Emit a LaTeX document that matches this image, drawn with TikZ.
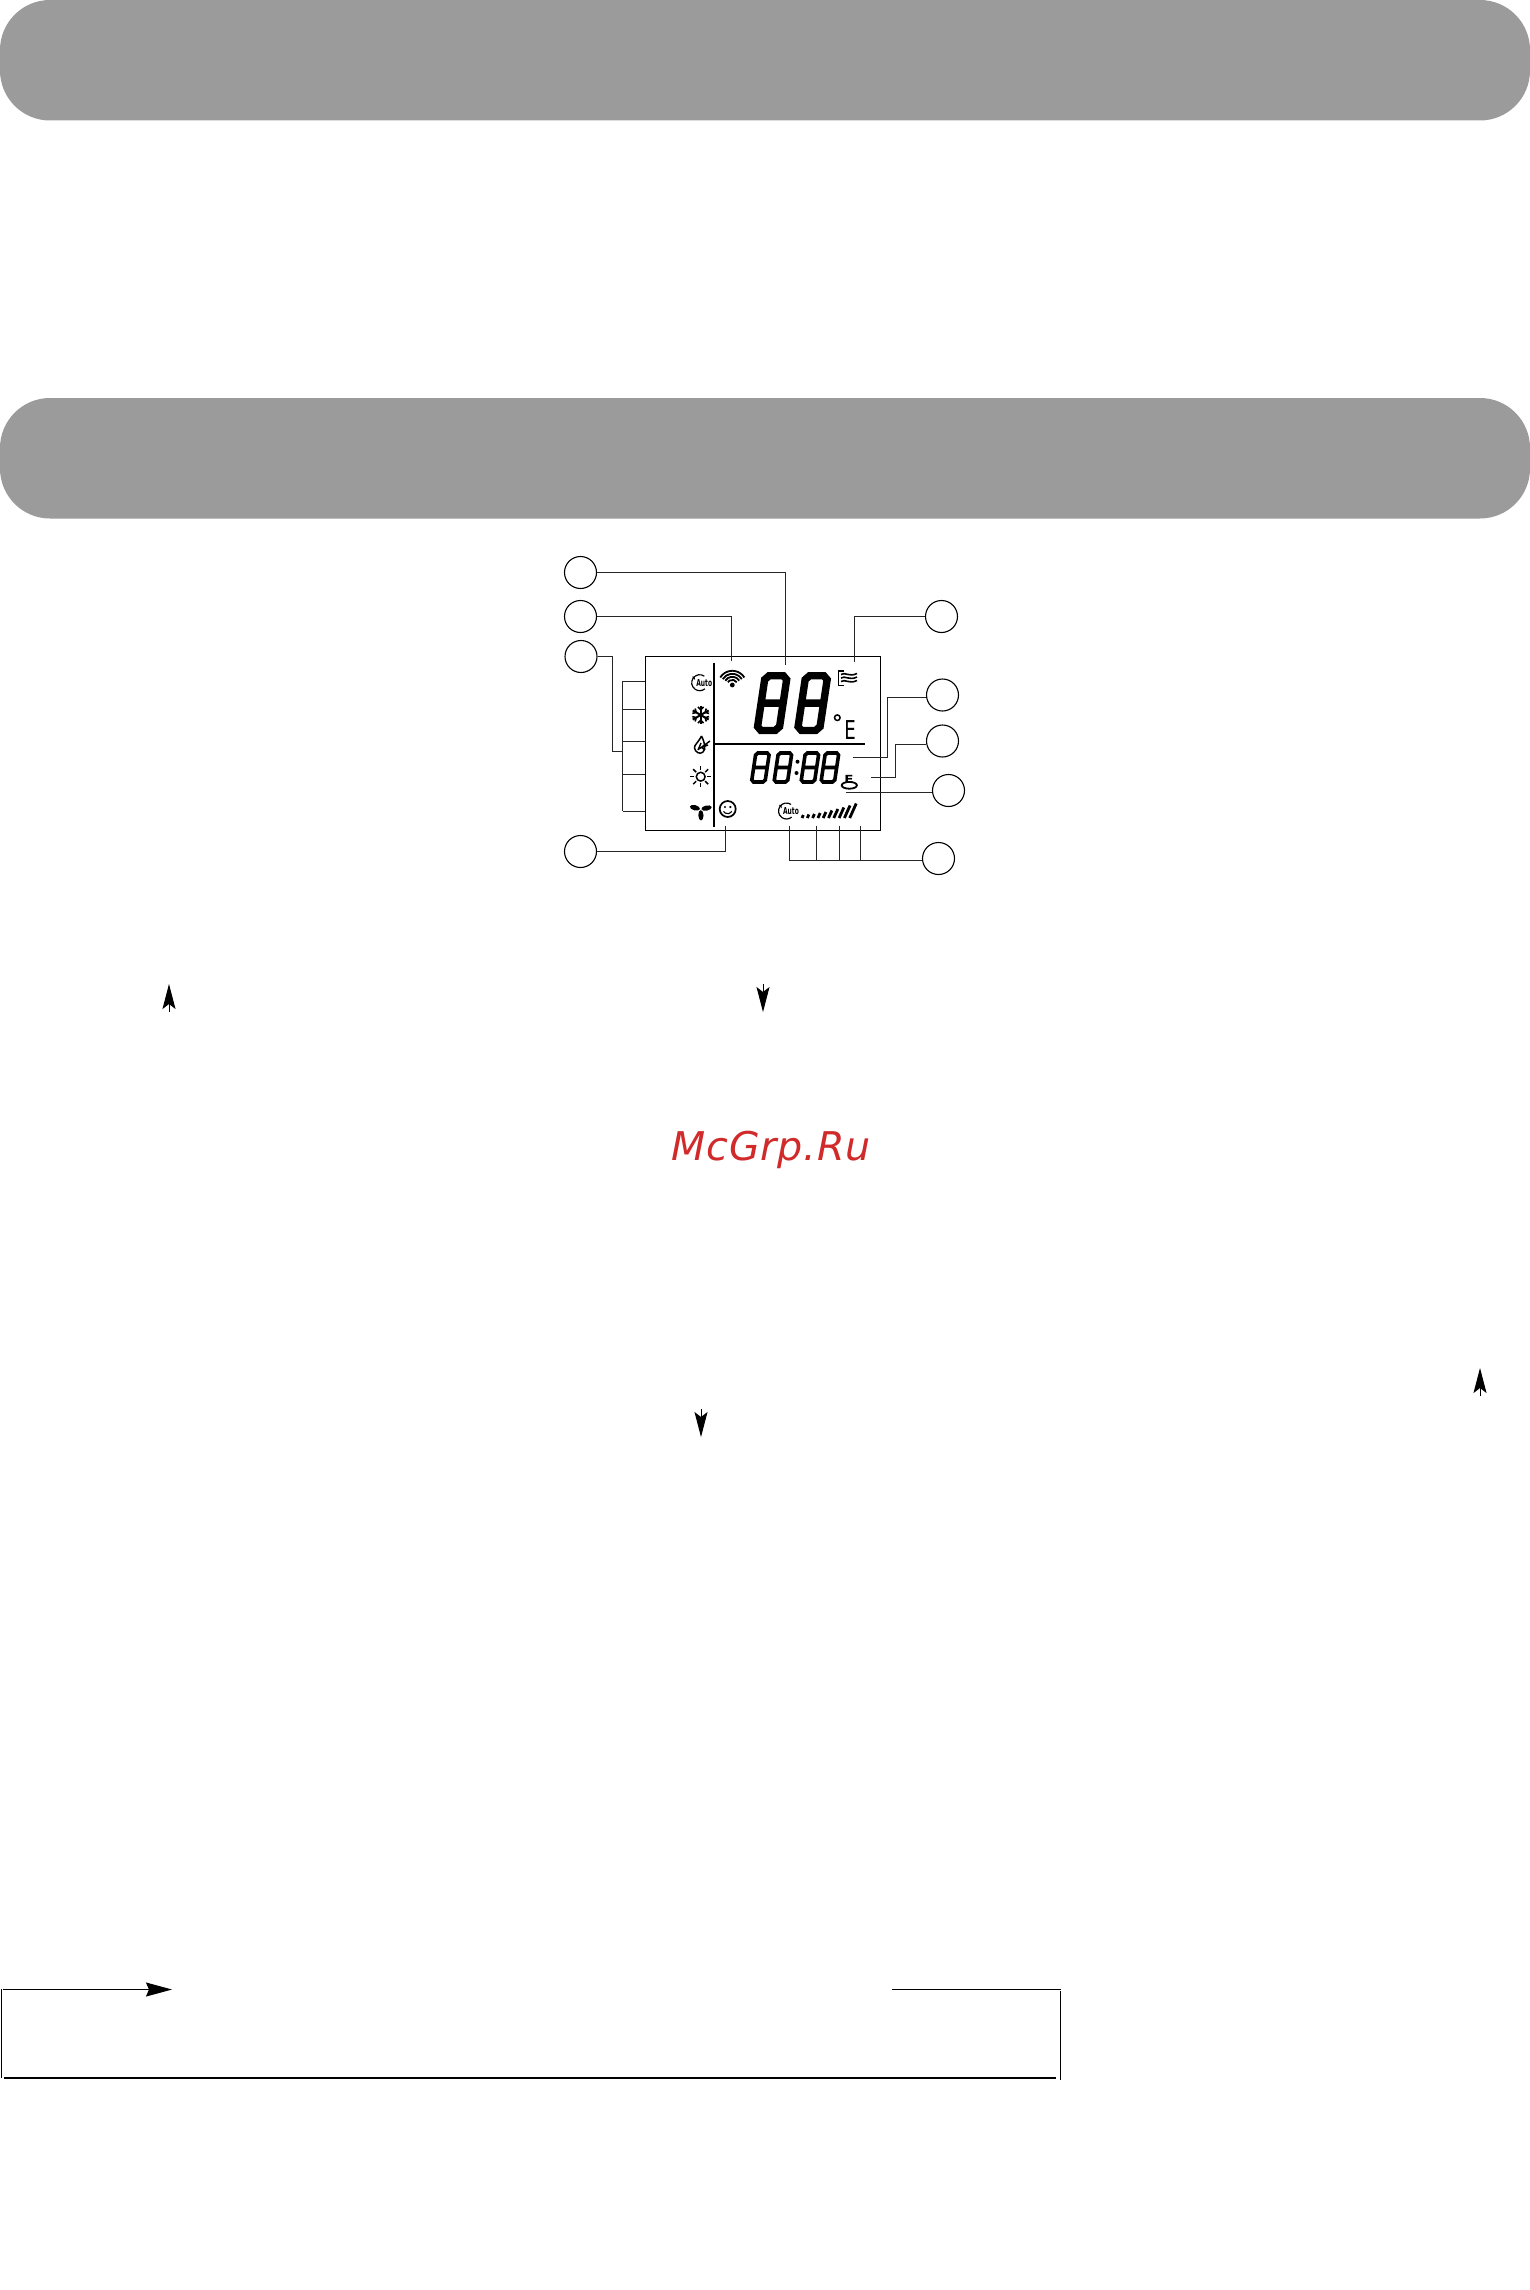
\documentclass[tikz,border=0pt]{standalone}
\usepackage{fontspec}
\setmainfont{DejaVu Sans}
\usetikzlibrary{arrows.meta}
\definecolor{bargray}{HTML}{9B9B9B}
\definecolor{markred}{HTML}{D02A2A}
\tikzset{
  callout/.style={circle,draw,line width=.55pt,minimum size=16pt,inner sep=0pt},
  lead/.style={line width=.55pt,black!85},
  heavy/.style={line width=1pt},
  icon/.style={line width=.75pt},
  upflow/.style={line width=.5pt,-{Stealth[length=12.5pt,width=6.5pt,inset=2.5pt]}},
  sideflow/.style={line width=.5pt,-{Stealth[length=13pt,width=7pt,inset=1.5pt]}}
}
% x, y of the lower left corner, then width, height, stroke
\newcommand{\lcdeight}[5]{
  \draw[shift={(#1,#2)},xslant=.15,line width=#5]
    (#4/14,0) -- (#3-#4/14,0) -- (#3,-#4/14) -- (#3,-#4+#4/14) -- (#3-#4/14,-#4) -- (#4/14,-#4) -- (0,-#4+#4/14) -- (0,-#4/14) -- cycle
    (0,-#4/2) -- (#3,-#4/2);
}
\newcommand{\autoicon}[2]{
  \draw[line width=.6pt] (#1,#2) ++(55:4pt) arc[start angle=55,end angle=310,radius=4pt];
  \fill (#1,#2) ++(130:4pt) -- ++(-2.5,0) -- ++(3,3.5) -- cycle;
  \node[font=\fontsize{4.8}{5}\selectfont\bfseries,xscale=.62,inner sep=0pt] at (#1+4.5,#2) {Auto};
}
\begin{document}
\begin{tikzpicture}[x=.5pt,y=-.5pt]
\useasboundingbox (0,0) rectangle (1530,2290);
\fill[bargray,rounded corners=25pt] (0,0) rectangle (1530,120.5);
\fill[bargray,rounded corners=25pt] (0,398) rectangle (1530,518.5);

% display panel
\node[draw,line width=.55pt,minimum width=117.3pt,minimum height=86.8pt,inner sep=0pt] (lcdbox) at (763,743.5) {};
\draw[heavy] (713.7,662.7) -- (713.7,827.3);
\draw[heavy] (714,743.7) -- (865,743.7);

% callouts
\node[callout] (cirA) at (580.5,572.5) {};
\node[callout] (cirB) at (580.5,616.5) {};
\node[callout] (cirC) at (581,656.5) {};
\node[callout] (cirD) at (580.5,851.5) {};
\node[callout] (cirE) at (941.5,616.5) {};
\node[callout] (cirF) at (942.5,695) {};
\node[callout] (cirG) at (942.5,741) {};
\node[callout] (cirH) at (948.5,790.5) {};
\node[callout] (cirI) at (938.5,858.5) {};

\coordinate (endA) at (785.5,664.5);
\coordinate (endB) at (731.5,660.5);
\coordinate (trunkT) at (622.5,681);
\coordinate (trunkB) at (622.5,811);
\coordinate (trunkM) at (612.5,751.5);
\coordinate (endD) at (725.5,825.5);
\coordinate (endE) at (854.5,661.5);
\coordinate (topF) at (887.5,697.5);
\coordinate (endF) at (852.5,757.5);
\coordinate (topG) at (895.5,744.5);
\coordinate (endG) at (870.5,777.5);
\coordinate (endH) at (845.5,792.5);
\coordinate (tickI) at (789.5,825.5);
\coordinate (footI) at (789.5,860.5);

\draw[lead] (cirA.east) -| (endA);
\draw[lead] (cirB.east) -| (endB);
\draw[lead] (cirC.east) -| (trunkM) -- (trunkT |- trunkM);
\draw[lead] (trunkT) -- (trunkB);
\foreach \ty in {681.5,709.5,741.5,774.5,811.5}
  \draw[lead] (trunkT |- 0,\ty) -- (lcdbox.west |- 0,\ty);
\draw[lead] (cirD.east) -| (endD);
\draw[lead] (cirE.west) -| (endE);
\draw[lead] (cirF.west |- topF) -- (topF) |- (endF);
\draw[lead] (cirG.west |- topG) -- (topG) |- (endG);
\draw[lead] (cirH.west |- endH) -- (endH);
\draw[lead] (cirI.west |- footI) -- (footI) -- (tickI);
\foreach \tx in {816.5,839.5,860.5}
  \draw[lead] (\tx,825.5) -- (\tx,860.5);

% big and small digits
\lcdeight{757}{730.5}{22}{54.8}{3.7pt}
\lcdeight{797.5}{730.5}{22}{54.8}{3.7pt}
\lcdeight{751.5}{782}{13.5}{29}{1.8pt}
\lcdeight{774}{782}{13.5}{29}{1.8pt}
\lcdeight{801}{782}{13.5}{29}{1.8pt}
\lcdeight{821}{782}{13.5}{29}{1.8pt}
\fill (797.5,761.7) circle[radius=1pt] (796.5,773) circle[radius=1pt];
\draw[icon] (837.3,717.7) circle[radius=1.4pt];
\node[font=\fontsize{13}{14}\selectfont,xscale=.7,inner sep=0pt] (bigE) at (850,730.5) {E};
\node[font=\fontsize{5.6}{6}\selectfont\bfseries,xscale=1.2,inner sep=0pt] (keyE) at (849,779) {E};
\draw[line width=.9pt] (849.3,785.3) ellipse[x radius=3.8pt,y radius=1.7pt];

% mode icons
\autoicon{699.7}{682.7}
\autoicon{786.5}{811}
\foreach \a in {30,90,150} {
  \draw[line width=1pt] (700.7,715) ++(\a:4.6pt) -- ++(\a+180:9.2pt);
}
\foreach \a in {30,90,...,330} {
  \draw[line width=.8pt] (700.7,715) ++(\a:2.6pt) ++(\a+45:2pt) -- ++(\a-135:2pt) -- ++(\a-45:2pt);
}
\draw[icon] (701.5,736) .. controls (698,743) and (694,745) .. (694.5,748) .. controls (695,752) and (700,755) .. (703,752) .. controls (706,749) and (705,743) .. (701.5,736);
\draw[line width=.7pt] (698,750) -- (701,743) (699,749) -- (710,741) (700,748) -- (708,745) (701,747) -- (705,750);
\draw[icon] (700.7,776.7) circle[radius=2.2pt];
\foreach \a in {0,45,...,315} {
  \draw[line width=.75pt] (700.7,776.7) ++(\a:3.2pt) -- ++(\a:2.1pt);
}
\foreach \a in {12,165,272} {
  \fill[shift={(700.7,809.3)},rotate=\a] (3pt,0) ellipse[x radius=2.6pt,y radius=1.3pt];
}
\draw[line width=.85pt] (727.7,809) circle[radius=4pt];
\fill (725,807) circle[radius=.6pt] (730.4,807) circle[radius=.6pt];
\draw[line width=.55pt] (727.7,809) ++(-30:2.4pt) arc[start angle=-30,end angle=-150,radius=2.4pt];

% wifi
\fill (732.3,685) circle[radius=1.2pt];
\foreach \r in {2.6,4.1,5.6,7.1} {
  \draw[line width=.9pt] (732.3,685) ++(32:\r pt) arc[start angle=32,end angle=148,radius=\r pt];
}
% heater panel
\draw[line width=.85pt] (844,671) -- (838.6,671) -- (838.6,685.5) -- (844,685.5);
\foreach \w in {674.5,678,681.5} {
  \draw[line width=.8pt] (841,\w) .. controls (845,\w-3) and (849,\w+3) .. (857,\w-1);
}
% speed bars
\foreach \n/\bh in {0/3,1/3.5,2/4,3/5,4/6,5/7.5,6/9,7/10.5,8/12.5,9/14.5} {
  \draw[line width=1.4pt] (802+5.3*\n,818) -- (802+5.3*\n+.45*\bh,818-\bh);
}

% arrows in the text
\coordinate (upA0) at (169,1012);
\coordinate (upA1) at (169,984);
\coordinate (dnA0) at (763,984);
\coordinate (dnA1) at (763,1012);
\coordinate (upB0) at (1480,1396);
\coordinate (upB1) at (1480,1368);
\coordinate (dnB0) at (701,1409);
\coordinate (dnB1) at (701,1437);
\draw[upflow] (upA0) -- (upA1);
\draw[upflow] (dnA0) -- (dnA1);
\draw[upflow] (upB0) -- (upB1);
\draw[upflow] (dnB0) -- (dnB1);

\node[font=\fontsize{19.8}{22}\selectfont\itshape\addfontfeatures{LetterSpace=2},text=markred,inner sep=0pt] (mark) at (771,1150) {McGrp.Ru};

% cycle frame
\coordinate (loopTL) at (3,1989.5);
\coordinate (loopTip) at (172,1989.5);
\coordinate (loopTM) at (892,1989.5);
\coordinate (loopTR) at (1061,1989.5);
\coordinate (loopLT) at (1,1989);
\coordinate (loopLB) at (1,2078);
\coordinate (loopRT) at (1060.5,1991);
\coordinate (loopRB) at (1060.5,2080);
\coordinate (loopBL) at (4,2078);
\coordinate (loopBR) at (1056,2078);
\draw[sideflow] (loopTL) -- (loopTip);
\draw[line width=.5pt] (loopTM) -- (loopTR);
\draw[line width=.5pt] (loopLT) -- (loopLB);
\draw[line width=.5pt] (loopRT) -- (loopRB);
\draw[line width=1pt] (loopBL) -- (loopBR);
\end{tikzpicture}
\end{document}
